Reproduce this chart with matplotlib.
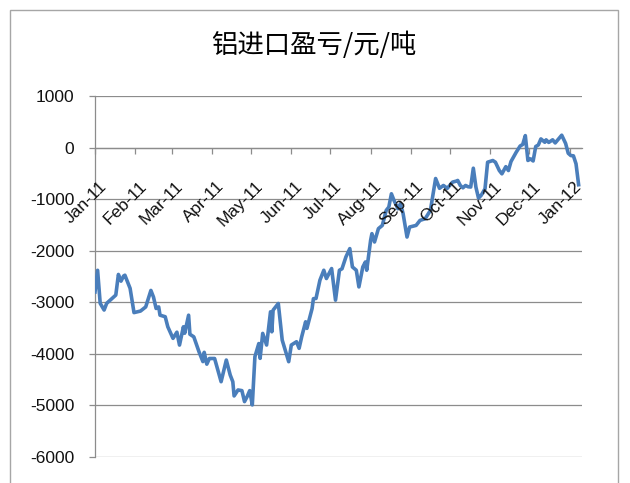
import matplotlib
matplotlib.use('Agg')
import matplotlib.pyplot as plt
import matplotlib.dates as mdates
from matplotlib.patches import Rectangle
from matplotlib.transforms import ScaledTranslation
import numpy as np

title = '铝进口盈亏/元/吨'

dates = [
    '2011-01-04', '2011-01-06', '2011-01-08', '2011-01-11', '2011-01-13', '2011-01-17',
    '2011-01-20', '2011-01-22', '2011-01-24', '2011-01-26', '2011-01-27', '2011-01-31',
    '2011-02-03', '2011-02-08', '2011-02-12', '2011-02-16', '2011-02-18', '2011-02-20',
    '2011-02-22', '2011-02-23', '2011-02-27', '2011-03-01', '2011-03-05', '2011-03-08',
    '2011-03-10', '2011-03-13', '2011-03-14', '2011-03-17', '2011-03-18', '2011-03-21',
    '2011-03-25', '2011-03-28', '2011-03-29', '2011-03-31', '2011-04-02', '2011-04-06',
    '2011-04-11', '2011-04-15', '2011-04-18', '2011-04-20', '2011-04-21', '2011-04-24',
    '2011-04-27', '2011-04-29', '2011-05-01', '2011-05-03', '2011-05-05', '2011-05-07',
    '2011-05-10', '2011-05-11', '2011-05-13', '2011-05-16', '2011-05-19', '2011-05-20',
    '2011-05-21', '2011-05-25', '2011-05-28', '2011-06-02', '2011-06-04', '2011-06-08',
    '2011-06-10', '2011-06-12', '2011-06-15', '2011-06-16', '2011-06-20', '2011-06-21',
    '2011-06-23', '2011-06-26', '2011-06-29', '2011-07-01', '2011-07-05', '2011-07-08',
    '2011-07-11', '2011-07-13', '2011-07-16', '2011-07-19', '2011-07-21', '2011-07-24',
    '2011-07-26', '2011-07-29', '2011-07-31', '2011-08-01', '2011-08-04', '2011-08-05',
    '2011-08-07', '2011-08-10', '2011-08-13', '2011-08-16', '2011-08-18', '2011-08-20',
    '2011-08-22', '2011-08-25', '2011-08-27', '2011-08-29', '2011-09-01', '2011-09-03',
    '2011-09-08', '2011-09-11', '2011-09-15', '2011-09-19', '2011-09-23', '2011-09-26',
    '2011-09-29', '2011-10-02', '2011-10-06', '2011-10-09', '2011-10-10', '2011-10-12',
    '2011-10-14', '2011-10-16', '2011-10-18', '2011-10-20', '2011-10-22', '2011-10-24',
    '2011-10-26', '2011-10-28', '2011-10-31', '2011-11-02', '2011-11-06', '2011-11-08',
    '2011-11-11', '2011-11-13', '2011-11-16', '2011-11-18', '2011-11-20', '2011-11-24',
    '2011-11-27', '2011-11-29', '2011-12-01', '2011-12-03', '2011-12-05', '2011-12-07',
    '2011-12-09', '2011-12-11', '2011-12-13', '2011-12-16', '2011-12-17', '2011-12-19',
    '2011-12-22', '2011-12-24', '2011-12-26', '2011-12-29', '2012-01-01', '2012-01-03',
    '2012-01-05', '2012-01-07', '2012-01-09', '2012-01-11',
]

values = [
    -2800, -2380, -3020, -3150, -3020, -2930,
    -2860, -2460, -2590, -2490, -2475, -2730,
    -3200, -3170, -3090, -2770, -2900, -3120,
    -3090, -3250, -3280, -3475, -3700, -3580,
    -3830, -3475, -3600, -3250, -3620, -3670,
    -3960, -4150, -3970, -4200, -4090, -4090,
    -4540, -4120, -4410, -4540, -4816, -4700,
    -4713, -4926, -4830, -4713, -4990, -4055,
    -3800, -4087, -3603, -3829, -3185, -3572,
    -3152, -3023, -3733, -4152, -3829, -3765,
    -3893, -3668, -3378, -3506, -3120, -2930,
    -2926, -2572, -2379, -2539, -2346, -2959,
    -2379, -2350, -2121, -1959, -2315, -2379,
    -2702, -2315, -2218, -2379, -1799, -1669,
    -1831, -1572, -1509, -1218, -1154, -896,
    -1025, -1186, -1089, -1282, -1735, -1541,
    -1509, -1412, -1379, -1218, -600, -790,
    -735, -790, -670, -650, -638, -735,
    -780, -735, -760, -765, -400, -767,
    -980, -928, -799, -284, -251, -284,
    -445, -509, -370, -445, -270, -90,
    30, 60, 232, -250, -219, -260,
    20, 50, 168, 103, 150, 100,
    150, 90, 150, 240, 80, -110,
    -155, -160, -315, -720,
]

y_ticks = [1000, 0, -1000, -2000, -3000, -4000, -5000, -6000]
x_tick_dates = ['2011-01-04', '2011-02-04', '2011-03-04', '2011-04-04', '2011-05-04',
                '2011-06-04', '2011-07-04', '2011-08-04', '2011-09-04', '2011-10-04',
                '2011-11-04', '2011-12-04', '2012-01-04']
x_tick_labels = ['Jan-11', 'Feb-11', 'Mar-11', 'Apr-11', 'May-11', 'Jun-11', 'Jul-11',
                 'Aug-11', 'Sep-11', 'Oct-11', 'Nov-11', 'Dec-11', 'Jan-12']

plt.rcParams['font.family'] = ['Liberation Sans', 'DejaVu Sans']

W, H = 630, 483
fig = plt.figure(figsize=(W / 100, H / 100), dpi=100)
fig.patch.set_facecolor('white')

ax = fig.add_axes([95 / W, 1 - 457 / H, (582 - 95) / W, (457 - 96) / H])

x = mdates.date2num(np.array(dates, dtype='datetime64[D]'))
ax.plot(x, values, color='#4a7ebb', lw=2.6, solid_joinstyle='round', zorder=3)

x0 = mdates.date2num(np.datetime64('2011-01-04'))
ax.set_xlim(x0, x0 + 374.6)
ax.set_ylim(-6000, 1000)

grid_c = '#8c8c8c'
ax.set_yticks(y_ticks)
ax.set_yticklabels([str(v) for v in y_ticks])
ax.yaxis.grid(True, color=grid_c, lw=0.9)
ax.set_axisbelow(True)

xt = mdates.date2num(np.array(x_tick_dates, dtype='datetime64[D]'))
ax.set_xticks(xt)
ax.set_xticklabels([''] * len(xt))

for s in ['top', 'right']:
    ax.spines[s].set_visible(False)
ax.spines['bottom'].set_position(('data', 0))
ax.spines['bottom'].set_color(grid_c)
ax.spines['bottom'].set_linewidth(0.9)
ax.spines['left'].set_color(grid_c)
ax.spines['left'].set_linewidth(0.9)

ax.tick_params(axis='y', direction='out', length=4, width=0.9, color=grid_c,
               pad=11, labelsize=12.5, labelcolor='#111111')
ax.tick_params(axis='x', direction='out', length=4.3, width=0.9, color=grid_c)

# rotated month labels hanging below the zero line
off = ScaledTranslation(4 / 100, -31 / 100, fig.dpi_scale_trans)
for xv, lab in zip(xt, x_tick_labels):
    ax.text(xv, 0, lab, transform=ax.transData + off, rotation=45,
            rotation_mode='anchor', ha='right', va='top', fontsize=12.5,
            color='#111111', clip_on=False, zorder=4)

fig.text(314 / W, 1 - 45 / H, title, ha='center', va='center', fontsize=19,
         family=['Noto Sans CJK SC', 'DejaVu Sans'], color='black')

fig.patches.append(Rectangle((10 / W, -0.05), (618 - 10) / W, 1.05 - 10 / H,
                             transform=fig.transFigure, fill=False,
                             edgecolor='#a6a6a6', lw=1.0))

fig.savefig('out.png', dpi=100, facecolor='white')
